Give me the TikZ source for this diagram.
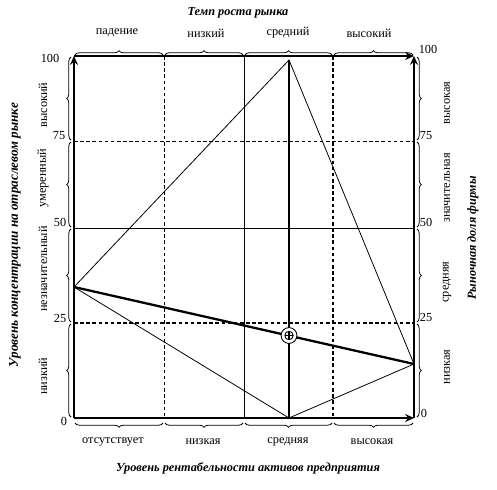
\documentclass[tikz,border=0pt]{standalone}
\usepackage{fontspec}
\setmainfont{Liberation Serif}
\usepackage{tikz}
\usetikzlibrary{arrows.meta,decorations.pathreplacing}

\tikzset{
  axisline/.style={line width=1.6pt,-{Stealth[length=5pt,width=4.5pt]}},
  thinline/.style={line width=0.45pt},
  thinhatch/.style={line width=0.45pt,dash pattern=on 2pt off 1.5pt},
  thickhatch/.style={line width=0.9pt,dash pattern=on 2pt off 1.5pt},
  boldline/.style={line width=1.6pt},
  brc/.style={decorate,decoration={brace,amplitude=2.5pt},line width=0.45pt},
  lbl/.style={font=\fontsize{7}{8}\selectfont,inner sep=0pt},
  ttl/.style={font=\fontsize{7}{8}\selectfont\bfseries\itshape,inner sep=0pt}
}

\begin{document}
\begin{tikzpicture}[x=0.02cm,y=-0.02cm]
    \useasboundingbox (0,0) rectangle (497,490);

    % Corners of the field
    \coordinate (O) at (74,418);
    \coordinate (TL) at (74,56);
    \coordinate (TR) at (414,56);
    \coordinate (BR) at (414,418);

    % Points of the polygon
    \coordinate (L) at (74,287);
    \coordinate (T) at (289,60);
    \coordinate (R) at (414,364);
    \coordinate (B) at (289,418);

    % Grid
    \draw[thinhatch] (164,56) -- (164,418);
    \draw[thinline] (244,56) -- (244,418);
    \draw[thickhatch] (333,56) -- (333,418);
    \draw[thinhatch] (74,141) -- (414,141);
    \draw[thinline] (74,228) -- (414,228);
    \draw[thickhatch] (74,323) -- (414,323);

    % Axes
    \draw[axisline] (O) -- (TL);
    \draw[axisline] (TL) -- (TR);
    \draw[axisline] (BR) -- (TR);
    \draw[axisline] (O) -- (BR);

    % Polygon
    \draw[thinline] (L) -- (T) -- (R) -- (B) -- cycle;
    \draw[boldline] (T) -- (B);
    \draw[line width=1.3pt] (L) -- (R);

    % Marker
    \node[draw,circle,fill=white,minimum size=9pt,inner sep=0pt,line width=0.5pt] (M) at (289,335.5) {};
    \draw[line width=0.5pt] (M.center) circle (2.4pt);
    \draw[line width=0.8pt] ([yshift=2.4pt]M.center) -- ([yshift=-2.4pt]M.center);
    \draw[line width=0.5pt] ([xshift=-2.4pt]M.center) -- ([xshift=2.4pt]M.center);

    % Braces on top
    \draw[brc] (75,55) -- (163,55);
    \draw[brc] (165,55) -- (243,55);
    \draw[brc] (245,55) -- (332,55);
    \draw[brc] (334,55) -- (413,55);

    % Braces at the bottom
    \draw[brc] (163,423) -- (75,423);
    \draw[brc] (243,423) -- (165,423);
    \draw[brc] (332,423) -- (245,423);
    \draw[brc] (413,423) -- (334,423);

    % Braces on the left
    \draw[brc] (71,140) -- (71,57);
    \draw[brc] (71,227) -- (71,142);
    \draw[brc] (71,322) -- (71,229);
    \draw[brc] (71,417) -- (71,324);

    % Braces on the right
    \draw[brc] (417,57) -- (417,140);
    \draw[brc] (417,142) -- (417,227);
    \draw[brc] (417,229) -- (417,322);
    \draw[brc] (417,324) -- (417,417);

    % Numbers
    \node[lbl] (n100l) at (50,58) {100};
    \node[lbl] (n75l) at (59,136) {75};
    \node[lbl] (n50l) at (60,222) {50};
    \node[lbl] (n25l) at (60,318) {25};
    \node[lbl] (n0l) at (64,421) {0};
    \node[lbl] (n100r) at (428,49) {100};
    \node[lbl] (n75r) at (426,136) {75};
    \node[lbl] (n50r) at (426,222) {50};
    \node[lbl] (n25r) at (426,317) {25};
    \node[lbl] (n0r) at (424,413) {0};

    % Top labels
    \node[lbl] (t1) at (117,33) {падение};
    \node[lbl] (t2) at (206,33) {низкий};
    \node[lbl] (t3) at (288,33) {средний};
    \node[lbl] (t4) at (369,33) {высокий};

    % Bottom labels
    \node[lbl] (b1) at (113,442) {отсутствует};
    \node[lbl] (b2) at (203,442) {низкая};
    \node[lbl] (b3) at (288,442) {средняя};
    \node[lbl] (b4) at (372,442) {высокая};

    % Left labels
    \node[lbl,rotate=90] (l1) at (43,376) {низкий};
    \node[lbl,rotate=90] (l2) at (43,269) {незначительный};
    \node[lbl,rotate=90] (l3) at (43,178) {умеренный};
    \node[lbl,rotate=90] (l4) at (43,105) {высокий};

    % Right labels
    \node[lbl,rotate=90] (r1) at (447,367) {низкая};
    \node[lbl,rotate=90] (r2) at (447,282) {средняя};
    \node[lbl,rotate=90] (r3) at (447,188) {значительная};
    \node[lbl,rotate=90] (r4) at (447,103) {высокая};

    % Titles
    \node[ttl] (top) at (238,13) {Темп роста рынка};
    \node[ttl] (bottom) at (248,468) {Уровень рентабельности активов предприятия};
    \node[ttl,rotate=90,font=\fontsize{7.5}{8}\selectfont\bfseries\itshape] (left) at (15,235) {Уровень концентрации на отраслевом рынке};
    \node[ttl,rotate=90] (right) at (473,238) {Рыночная доля фирмы};
\end{tikzpicture}
\end{document}
